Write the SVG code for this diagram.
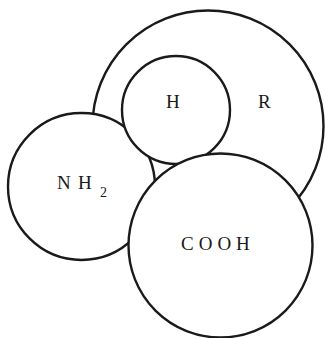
<svg xmlns="http://www.w3.org/2000/svg" width="325" height="338" viewBox="0 0 325 338">
<style>
.c{fill:#fff;stroke:#1a1a1a;stroke-width:2.4}
.t{font-family:"Liberation Serif","DejaVu Serif",serif;font-size:19px;fill:#1a1a1a}
</style>
<rect width="325" height="338" fill="#fff"/>
<g id="connectors"></g>
<g id="R"><circle class="c" cx="208" cy="126" r="115.5"/><text class="t" x="258" y="108">R</text></g>
<g id="NH2"><circle class="c" cx="81.5" cy="186.5" r="73.5"/><text class="t" x="57" y="189"><tspan>N</tspan><tspan x="78">H</tspan><tspan x="100" y="197" font-size="14">2</tspan></text></g>
<g id="H"><circle class="c" cx="176" cy="110" r="54"/><text class="t" x="166" y="108">H</text></g>
<g id="COOH"><circle class="c" cx="220.5" cy="245.5" r="92"/><text class="t" x="181" y="250" letter-spacing="5">COOH</text></g>
</svg>
